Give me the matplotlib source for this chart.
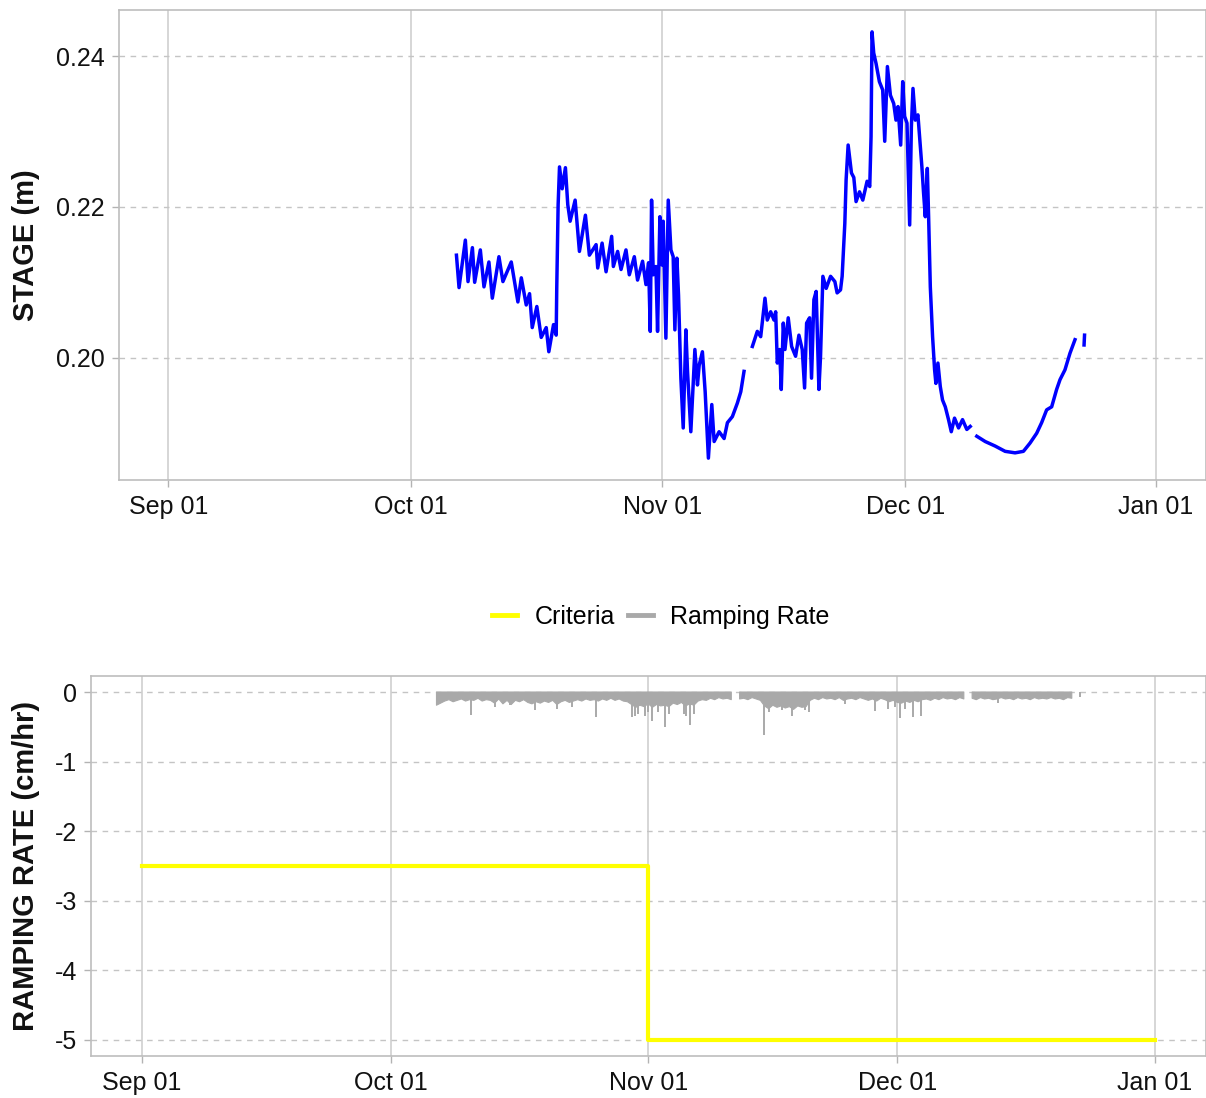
import numpy as np
import pandas as pd
import matplotlib
matplotlib.use("Agg")
import matplotlib.pyplot as plt
import matplotlib.dates as mdates
from matplotlib.lines import Line2D

plt.rcParams['font.family'] = ['Liberation Sans', 'DejaVu Sans']

BASE = pd.Timestamp('2023-09-01')

# ---------------- data: stage (days since Sep 01, metres) ----------------
stage_day = [35.58, 35.90, 36.68, 37.01, 37.55, 37.83, 38.53, 38.98, 39.59, 40.01,
             40.83, 41.32, 42.35, 43.17, 43.59, 44.20, 44.61, 44.94, 45.51, 46.05,
             46.67, 46.99, 47.57, 47.90, 47.97, 48.14, 48.31, 48.64, 49.04, 49.33,
             49.62, 50.24, 50.77, 51.51, 52.00, 52.83, 53.03, 53.57, 54.06, 54.75,
             54.96, 55.49, 55.91, 56.52, 56.93, 57.55, 57.95, 58.57, 58.99, 59.31,
             59.52, 59.68, 59.89, 60.22, 60.42, 60.71, 60.96, 61.12, 61.45, 61.74,
             62.07, 62.35, 62.56, 62.81, 63.01, 63.30, 63.59, 63.92, 64.12, 64.53,
             65.03, 65.35, 65.56, 65.96, 66.30, 66.70, 67.12, 67.41, 68.02, 68.64,
             69.05, 69.66, 70.28, 70.70, 71.10, 71.60, 72.13, 72.74, 73.16, 73.69,
             73.97, 74.39, 74.80, 75.01, 75.21, 75.50, 75.70, 75.95, 76.16, 76.56,
             76.98, 77.47, 77.88, 78.29, 78.58, 78.83, 79.20, 79.44, 79.73, 80.01,
             80.35, 80.55, 80.84, 81.25, 81.79, 82.32, 82.60, 83.02, 83.22, 83.55,
             83.71, 83.96, 84.37, 84.66, 84.94, 85.36, 85.77, 86.30, 86.63, 86.79,
             86.91, 87.12, 87.41, 87.82, 88.23, 88.48, 88.81, 89.18, 89.59, 89.87,
             90.12, 90.45, 90.70, 90.94, 91.23, 91.56, 91.77, 91.97, 92.26, 92.58,
             92.75, 93.07, 93.28, 93.49, 93.74, 93.90, 94.11, 94.39, 94.64, 94.80,
             95.05, 95.34, 95.62, 95.96, 96.36, 96.70, 97.10, 97.60, 98.09, 98.62,
             99.04, 99.45, 99.85, 100.89, 102.12, 103.35, 104.58, 105.61, 106.43, 107.25,
             107.86, 108.48, 109.10, 109.71, 110.13, 110.74, 111.36, 111.98, 112.50, 113.10,
             113.16]
stage_m = [0.2136, 0.2093, 0.2156, 0.2101, 0.2146, 0.2100, 0.2143, 0.2094, 0.2127, 0.2079,
           0.2134, 0.2101, 0.2127, 0.2074, 0.2106, 0.2070, 0.2085, 0.2040, 0.2068, 0.2027,
           0.2040, 0.2008, 0.2044, 0.2030, 0.2093, 0.2203, 0.2253, 0.2224, 0.2252, 0.2203,
           0.2181, 0.2209, 0.2141, 0.2189, 0.2136, 0.2150, 0.2119, 0.2152, 0.2114, 0.2161,
           0.2121, 0.2141, 0.2117, 0.2143, 0.2110, 0.2134, 0.2103, 0.2128, 0.2097, 0.2126,
           0.2035, 0.2209, 0.2110, 0.2121, 0.2035, 0.2187, 0.2123, 0.2181, 0.2026, 0.2209,
           0.2143, 0.2134, 0.2037, 0.2132, 0.2083, 0.1973, 0.1907, 0.2037, 0.1982, 0.1902,
           0.2011, 0.1964, 0.1990, 0.2008, 0.1955, 0.1867, 0.1938, 0.1889, 0.1902, 0.1893,
           0.1914, 0.1922, 0.1940, 0.1955, 0.1982, np.nan, 0.2015, 0.2035, 0.2028, 0.2079,
           0.2050, 0.2061, 0.2050, 0.2061, 0.1993, 0.2011, 0.1958, 0.2046, 0.2011, 0.2053,
           0.2015, 0.2002, 0.2030, 0.2011, 0.1960, 0.2046, 0.2053, 0.1973, 0.2077, 0.2088,
           0.1958, 0.2002, 0.2108, 0.2092, 0.2108, 0.2101, 0.2086, 0.2090, 0.2108, 0.2178,
           0.2236, 0.2282, 0.2245, 0.2239, 0.2207, 0.2220, 0.2209, 0.2234, 0.2227, 0.2293,
           0.2432, 0.2404, 0.2390, 0.2366, 0.2355, 0.2287, 0.2386, 0.2348, 0.2337, 0.2315,
           0.2333, 0.2282, 0.2366, 0.2320, 0.2311, 0.2176, 0.2306, 0.2357, 0.2315, 0.2322,
           0.2298, 0.2253, 0.2218, 0.2187, 0.2251, 0.2187, 0.2094, 0.2028, 0.1984, 0.1966,
           0.1993, 0.1962, 0.1944, 0.1935, 0.1918, 0.1902, 0.1920, 0.1907, 0.1918, 0.1905,
           0.1909, np.nan, 0.1896, 0.1889, 0.1883, 0.1876, 0.1874, 0.1876, 0.1887, 0.1900,
           0.1914, 0.1931, 0.1935, 0.1958, 0.1971, 0.1984, 0.2006, 0.2024, np.nan, 0.2017,
           0.2030]

# ---------------- data: ramping rate (cm/hr) ----------------
rr_start, rr_step = 35.5, 0.5          # sampling of the envelope (days since Sep 01)
rr_low = [-0.19, -0.16, -0.13, -0.11, -0.14, -0.12, -0.10, -0.13, -0.11, -0.12,
          -0.09, -0.13, -0.11, -0.12, -0.16, -0.10, -0.17, -0.12, -0.18, -0.12,
          -0.14, -0.11, -0.15, -0.17, -0.14, -0.16, -0.13, -0.15, -0.12, -0.18,
          -0.14, -0.12, -0.15, -0.13, -0.11, -0.13, -0.10, -0.12, -0.11, -0.13,
          -0.10, -0.12, -0.09, -0.12, -0.10, -0.13, -0.14, -0.18, -0.22, -0.19,
          -0.21, -0.17, -0.22, -0.18, -0.20, -0.19, -0.21, -0.16, -0.18, -0.15,
          -0.20, -0.17, -0.19, -0.13, -0.11, -0.12, -0.09, -0.11, -0.08, -0.10,
          -0.09, -0.11, np.nan, -0.10, -0.09, -0.11, -0.08, -0.10, -0.12, -0.20,
          -0.24, -0.19, -0.22, -0.20, -0.23, -0.21, -0.25, -0.20, -0.22, -0.21,
          -0.12, -0.09, -0.11, -0.08, -0.10, -0.09, -0.11, -0.08, -0.12, -0.10,
          -0.09, -0.11, -0.08, -0.10, -0.12, -0.10, -0.13, -0.09, -0.11, -0.14,
          -0.12, -0.15, -0.16, -0.13, -0.15, -0.12, -0.14, -0.11, -0.10, -0.12,
          -0.09, -0.11, -0.08, -0.10, -0.09, -0.11, -0.08, -0.10, np.nan, -0.09,
          -0.11, -0.08, -0.10, -0.09, -0.11, -0.10, -0.08, -0.10, -0.09, -0.11,
          -0.08, -0.10, -0.09, -0.11, -0.08, -0.10, -0.09, -0.10, -0.08, -0.10,
          -0.09, -0.11, -0.08, -0.09]
spike_day = [39.6, 42.6, 44.4, 47.4, 50.0, 51.8, 54.65, 59.05, 59.4, 59.8,
             60.6, 61.0, 61.46, 62.2, 63.06, 63.5, 65.3, 65.5, 66.07, 66.5,
             74.9, 75.5, 77.1, 78.3, 79.9, 80.3, 84.7, 88.3, 89.9, 90.7,
             91.3, 91.9, 92.9, 93.9, 103.1, 113.0]
spike_val = [-0.33, -0.21, -0.19, -0.26, -0.25, -0.21, -0.36, -0.36, -0.34, -0.31,
             -0.34, -0.29, -0.41, -0.29, -0.50, -0.31, -0.31, -0.34, -0.48, -0.31,
             -0.62, -0.29, -0.26, -0.34, -0.26, -0.29, -0.17, -0.28, -0.24, -0.21,
             -0.38, -0.24, -0.36, -0.34, -0.16, -0.07]

# criteria step
crit_day = [0, 61, 122]
crit_val = [-2.5, -5.0, -5.0]

def to_dates(days):
    return BASE + pd.to_timedelta(np.asarray(days, dtype=float), unit='D')

# ---------------- figure ----------------
W, H = 1206, 1098
fig = plt.figure(figsize=(W / 100, H / 100), dpi=100)
ax1 = fig.add_axes([119 / W, 1 - 480 / H, (1205.5 - 119) / W, (480 - 10) / H])
ax2 = fig.add_axes([91 / W, 1 - 1056 / H, (1205.5 - 91) / W, (1056 - 676) / H])

TICK_FS = 18
TITLE_FS = 21
xlo = BASE - pd.Timedelta(days=6.1)
xhi = BASE + pd.Timedelta(days=122 + 6.1)

def style(ax):
    ax.set_axisbelow(True)
    for s in ax.spines.values():
        s.set_color('#bdbdbd')
        s.set_linewidth(1.2)
    ax.grid(axis='x', color='#cccccc', linewidth=1.1, linestyle='-')
    ax.grid(axis='y', color='#c4c4c4', linewidth=1.0, linestyle=(0, (4, 4)))
    ax.tick_params(axis='both', colors='#b3b3b3', length=5, width=1.0,
                   labelcolor='#111111', labelsize=TICK_FS)
    ax.tick_params(axis='x', pad=6)
    ax.tick_params(axis='y', pad=5)
    ax.xaxis.set_major_locator(mdates.MonthLocator())
    ax.xaxis.set_major_formatter(mdates.DateFormatter('%b %d'))
    ax.set_xlim(xlo, xhi)

# top: stage
ax1.plot(to_dates(stage_day), stage_m, color='#0000FF', linewidth=2.5)
style(ax1)
ax1.set_ylim(0.1838, 0.2461)
ax1.set_yticks([0.20, 0.22, 0.24])
ax1.set_yticklabels(['0.20', '0.22', '0.24'])
ax1.set_ylabel('STAGE (m)', fontsize=TITLE_FS, fontweight='bold', color='#111111')
ax1.yaxis.label.set_verticalalignment('center')
ax1.yaxis.set_label_coords((26 - 119) / (1205.5 - 119), 0.5)

# bottom: ramping rate
rr_days = rr_start + rr_step * np.arange(len(rr_low))
rr_low_arr = np.asarray(rr_low, dtype=float)
ax2.fill_between(to_dates(rr_days), 0.0, rr_low_arr, color='#A9A9A9',
                 linewidth=0.8, edgecolor='#A9A9A9', where=~np.isnan(rr_low_arr))
ax2.vlines(to_dates(spike_day), 0.0, spike_val, color='#A9A9A9', linewidth=1.4)
ax2.plot(to_dates(crit_day), crit_val, color='#FFFF00', linewidth=3.0,
         drawstyle='steps-post')
style(ax2)
ax2.set_ylim(-5.23, 0.23)
ax2.set_yticks([0, -1, -2, -3, -4, -5])
ax2.set_yticklabels(['0', '-1', '-2', '-3', '-4', '-5'])
ax2.set_ylabel('RAMPING RATE (cm/hr)', fontsize=TITLE_FS, fontweight='bold', color='#111111')
ax2.yaxis.label.set_verticalalignment('center')
ax2.yaxis.set_label_coords((26 - 91) / (1205.5 - 91), 0.5)

# legend
handles = [Line2D([], [], color='#FFFF00', linewidth=3.5),
           Line2D([], [], color='#A9A9A9', linewidth=3.5)]
fig.legend(handles, ['Criteria', 'Ramping Rate'], loc='center',
           bbox_to_anchor=(661 / W, 1 - 617 / H), ncol=2, frameon=False,
           fontsize=TICK_FS, handlelength=1.0, handletextpad=0.7,
           columnspacing=0.5)

fig.savefig('out.png', dpi=100)
